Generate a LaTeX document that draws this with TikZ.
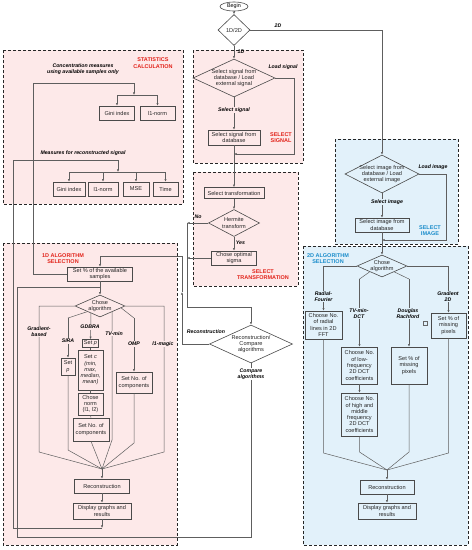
\documentclass[tikz,border=0pt]{standalone}
\usepackage{fontspec}
\setmainfont{Liberation Sans}
\usetikzlibrary{shapes.geometric,arrows.meta}
\definecolor{pinkbg}{HTML}{FDE9E9}
\definecolor{bluebg}{HTML}{E2F1FA}
\definecolor{redt}{HTML}{E2231A}
\definecolor{bluet}{HTML}{1B8DCB}
\definecolor{linec}{HTML}{5E5E5E}
\definecolor{boxc}{HTML}{4A4A4A}
\begin{document}
\begin{tikzpicture}[x=1pt,y=-1pt,
  box/.style={draw=boxc, line width=0.6pt, align=center, font=\fontsize{5.6}{6.3}\selectfont, inner sep=0.5pt, text=black!85},
  dia/.style={diamond, draw=boxc, line width=0.6pt, inner sep=0pt},
  txt/.style={align=center, font=\fontsize{5.6}{6.3}\selectfont, inner sep=0pt, text=black!85},
  lab/.style={font=\fontsize{5.2}{6}\selectfont\bfseries\itshape, align=center, inner sep=0.8pt},
  ttl/.style={font=\fontsize{5.5}{6.3}\selectfont\bfseries, align=center, inner sep=0pt},
  ln/.style={draw=linec, line width=0.5pt},
  arr/.style={ln, -{Latex[length=2.6pt,width=2.2pt]}},
  region/.style={draw=black!85, line width=1pt, dash pattern=on 3pt off 2pt}]
\useasboundingbox (0,0) rectangle (472,550);
% regions
\draw[region, fill=pinkbg] (3,50) rectangle (183,204);
\draw[region, fill=pinkbg] (193,50) rectangle (303,163);
\draw[region, fill=pinkbg] (193,172) rectangle (298,286);
\draw[region, fill=pinkbg] (3,243) rectangle (177,545);
\draw[region, fill=bluebg] (335,139) rectangle (458,244);
\draw[region, fill=bluebg] (303,246) rectangle (468,545);
% top
\node[ellipse, draw=boxc, line width=0.6pt, minimum width=28pt, minimum height=9pt, inner sep=0pt, font=\fontsize{5.4}{6}\selectfont] (begin) at (234,6.5) {Begin};
\node[dia, minimum width=32pt, minimum height=31pt] (d0) at (234,30) {};
\node[txt] (d0t) at (d0) {1D/2D};
% select signal
\node[dia, minimum width=82pt, minimum height=38pt] (d1) at (234,78) {};
\node[txt] (d1t) at (d1) {Select signal from\\database / Load\\external signal};
\node[box, minimum width=52pt, minimum height=15pt] (sigdb) at (234,137.5) {Select signal from\\database};
% transformation
\node[box, minimum width=60pt, minimum height=11pt] (trans) at (234,193) {Select transformation};
\node[dia, minimum width=51pt, minimum height=27pt] (herm) at (234,223) {};
\node[txt] (hermt) at (herm) {Hermite\\transform};
\node[box, minimum width=45pt, minimum height=14pt] (sigma) at (234,258) {Chose optimal\\sigma};
% reconstruction / compare
\node[dia, minimum width=83pt, minimum height=38pt] (rc) at (251,344) {};
\node[txt] (rct) at (rc) {Reconstruction/\\Compare\\algorithms};
% stats
\node[box, minimum width=35pt, minimum height=14pt] (gini1) at (117,113) {Gini index};
\node[box, minimum width=35pt, minimum height=14pt] (l1a) at (157.5,113) {l1-norm};
\node[box, minimum width=32pt, minimum height=14pt] (gini2) at (69,189) {Gini index};
\node[box, minimum width=30pt, minimum height=14pt] (l1b) at (103,189) {l1-norm};
\node[box, minimum width=26pt, minimum height=14pt] (mse) at (136,189) {MSE};
\node[box, minimum width=25pt, minimum height=14pt] (time) at (165.5,189) {Time};
% 1D algorithm
\node[box, minimum width=65pt, minimum height=14pt] (setpct) at (100,274) {Set \% of the available\\samples};
\node[dia, minimum width=50pt, minimum height=22pt] (ch1) at (100,306) {};
\node[txt] (ch1t) at (ch1) {Chose\\algorithm};
\node[box, minimum width=14pt, minimum height=17pt] (setp1) at (68,366.5) {Set\\\textit{p}};
\node[box, minimum width=16pt, minimum height=8pt] (setp2) at (90.5,343.5) {Set \textit{p}};
\node[box, minimum width=25pt, minimum height=40pt] (setc) at (90.5,370) {Set \textit{c}\\\textit{(min,}\\\textit{max,}\\\textit{median,}\\\textit{mean)}};
\node[box, minimum width=25pt, minimum height=22pt] (norm) at (90.5,404) {Chose\\norm\\(l1, l2)};
\node[box, minimum width=36pt, minimum height=23pt] (ncomp) at (91,429.5) {Set No. of\\components};
\node[box, minimum width=36pt, minimum height=21pt] (omp) at (134,382.5) {Set No. of\\components};
\coordinate (conv) at (102,469);
\node[box, minimum width=55pt, minimum height=14pt] (rec1) at (102,486) {Reconstruction};
\node[box, minimum width=58pt, minimum height=16pt] (disp1) at (102,511) {Display graphs and\\results};
% 2D
\node[dia, minimum width=74pt, minimum height=38pt] (d2) at (382,174) {};
\node[txt] (d2t) at (d2) {Select image from\\database / Load\\external image};
\node[box, minimum width=54pt, minimum height=14pt] (imgdb) at (382,225) {Select image from\\database};
\node[dia, minimum width=50pt, minimum height=22pt] (ch2) at (382,266) {};
\node[txt] (ch2t) at (ch2) {Chose\\algorithm};
\node[box, minimum width=37pt, minimum height=28pt] (rad) at (323.5,325) {Choose No.\\of radial\\lines in 2D\\FFT};
\node[box, minimum width=36pt, minimum height=37pt] (low) at (359.5,365.5) {Choose No.\\of low-\\frequency\\2D DCT\\coefficients};
\node[box, minimum width=36pt, minimum height=43pt] (high) at (359.5,414.5) {Choose No.\\of high and\\middle\\frequency\\2D DCT\\coefficients};
\node[box, minimum width=36pt, minimum height=37pt] (dr) at (409,365.5) {Set \% of\\missing\\pixels};
\node[box, minimum width=35pt, minimum height=25pt] (gr) at (448.5,325.5) {Set \% of\\missing\\pixels};
\node[draw=black!60, line width=0.4pt, minimum size=3.5pt, inner sep=0pt] (sq) at (425,323) {};
\coordinate (conv2) at (387,470);
\node[box, minimum width=54pt, minimum height=14pt] (rec2) at (387,487) {Reconstruction};
\node[box, minimum width=58pt, minimum height=16pt] (disp2) at (387,511) {Display graphs and\\results};
% ---- connectors
\draw[arr] (begin) -- (d0);
\draw[arr] (d0) -- (d1);
\draw[arr] (d1) -- (sigdb);
\coordinate (m1) at (234,154);
\draw[arr] (d1.east) -- (294,78) -- (294,154) -- (m1);
\draw[arr] (sigdb) -- (trans);
\draw[arr] (trans) -- (herm);
\draw[arr] (herm) -- (sigma);
\coordinate (n1) at (187,223);
\coordinate (n2) at (187,258);
\coordinate (n3) at (187,307);
\coordinate (n4) at (251,307);
\draw[arr] (herm.west) -- (n1);
\draw[arr] (sigma.west) -- (n2);
\draw[ln] (n1) -- (n3) -- (n4);
\draw[arr] (n4) -- (rc.north);
\coordinate (r1) at (182,344);
\coordinate (r2) at (182,292);
\coordinate (r3) at (182,256);
\coordinate (r4) at (100,256);
\draw[ln] (rc.west) -- (r1);
\draw[arr] (r1) -- (r2);
\draw[ln] (r2) -- (r3) -- (r4);
\draw[arr] (r4) -- (setpct.north);
\coordinate (c1) at (251,537);
\coordinate (c2) at (17,537);
\coordinate (c3) at (17,287);
\coordinate (c4) at (100,287);
\draw[ln] (rc.south) -- (c1) -- (c2) -- (c3) -- (c4);
\draw[arr] (setpct) -- (ch1);
% stats connectors
\coordinate (s1) at (33,274);
\coordinate (s2) at (33,83);
\coordinate (s3) at (134,83);
\coordinate (s4) at (134,95);
\draw[ln] (setpct.west) -- (s1) -- (s2) -- (s3);
\draw[arr] (s3) -- (s4);
\draw[ln] (gini1.north |- s4) -- (l1a.north |- s4);
\draw[arr] (gini1.north |- s4) -- (gini1.north);
\draw[arr] (l1a.north |- s4) -- (l1a.north);
\coordinate (t0) at (102,528);
\coordinate (t1) at (13,528);
\coordinate (t2) at (13,160);
\coordinate (t3) at (118,160);
\coordinate (t4) at (118,172);
\draw[arr] (disp1.south) -- (t0);
\draw[ln] (t0) -- (t1) -- (t2) -- (t3);
\draw[arr] (t3) -- (t4);
\draw[ln] (gini2.north |- t4) -- (time.north |- t4);
\draw[arr] (gini2.north |- t4) -- (gini2.north);
\draw[arr] (l1b.north |- t4) -- (l1b.north);
\draw[arr] (mse.north |- t4) -- (mse.north);
\draw[arr] (time.north |- t4) -- (time.north);
% 1D branches
\draw[ln] (ch1.west) -- (39,306) -- (39,452) -- (conv);
\draw[ln] (ch1.south west) -- (68,318);
\draw[arr] (68,318) -- (setp1.north);
\draw[ln] (setp1.south) -- (68,450) -- (conv);
\draw[arr] (91,313) -- (setp2.north);
\draw[ln] (setp2) -- (setc);
\draw[ln] (setc) -- (norm);
\draw[ln] (norm) -- (ncomp);
\draw[ln] (ncomp.south) -- (conv);
\draw[ln] (112,311.7) -- (112,440) -- (conv);
\draw[ln] (121,307.8) -- (134,318);
\draw[arr] (134,318) -- (omp.north);
\draw[ln] (omp.south) -- (134,443) -- (conv);
\draw[ln] (ch1.east) -- (164,306) -- (164,452) -- (conv);
\draw[arr] (conv) -- (rec1.north);
\draw[arr] (rec1) -- (disp1);
% 2D connectors
\coordinate (k1) at (382,30);
\draw[ln] (d0.east) -- (k1);
\draw[arr] (k1) -- (d2.north);
\draw[arr] (d2) -- (imgdb);
\coordinate (m2) at (382,240);
\draw[arr] (d2.east) -- (446,174) -- (446,240) -- (m2);
\draw[arr] (imgdb) -- (ch2);
\draw[ln] (ch2.west) -- (323.5,266);
\draw[arr] (323.5,266) -- (rad.north);
\draw[ln] (369.5,272) -- (359.5,279);
\draw[arr] (359.5,279) -- (low.north);
\draw[arr] (low) -- (high);
\draw[ln] (394.5,272) -- (409,279);
\draw[arr] (409,279) -- (dr.north);
\draw[ln] (ch2.east) -- (448.5,266);
\draw[arr] (448.5,266) -- (gr.north);
\draw[ln] (rad.south) -- (323.5,453) -- (conv2);
\draw[ln] (high.south) -- (359.5,452) -- (conv2);
\draw[ln] (dr.south) -- (409,452) -- (conv2);
\draw[ln] (gr.south) -- (448.5,453) -- (conv2);
\draw[arr] (conv2) -- (rec2.north);
\draw[arr] (rec2) -- (disp2);
% ---- labels
\node[lab] (l2d) at (278,26) {2D};
\node[lab] (l1d) at (241,52) {1D};
\node[lab] (lls) at (283,67) {Load signal};
\node[lab, fill=pinkbg] (lss) at (234,110) {Select signal};
\node[ttl, text=redt] (tss) at (281,137.5) {SELECT\\SIGNAL};
\node[lab] (lno) at (198,217) {No};
\node[lab] (lyes) at (240.5,243) {Yes};
\node[ttl, text=redt] (tst) at (263,274.5) {SELECT\\TRANSFORMATION};
\node[lab] (lrec) at (206,332) {Reconstruction};
\node[lab, fill=white] (lca) at (251,374) {Compare\\algorithms};
\node[lab] (lcm) at (83,69) {Concentration measures\\using available samples only};
\node[lab] (lmr) at (83,153) {Measures for reconstructed signal};
\node[ttl, text=redt] (tsc) at (153,63) {STATISTICS\\CALCULATION};
\node[ttl, text=redt] (t1d) at (63,258.5) {1D ALGORITHM\\SELECTION};
\node[lab, fill=pinkbg] (lgb) at (39,331.5) {Gradient-\\based};
\node[lab, fill=pinkbg] (lsira) at (68,341) {SIRA};
\node[lab, fill=pinkbg] (lgd) at (90,327) {GDBRA};
\node[lab, fill=pinkbg] (ltv) at (114,333.5) {TV-min};
\node[lab, fill=pinkbg] (lomp) at (134,344) {OMP};
\node[lab, fill=pinkbg] (lmag) at (163,344) {l1-magic};
\node[lab] (lli) at (433,167) {Load image};
\node[lab, fill=bluebg] (lsi) at (387,202) {Select image};
\node[ttl, text=bluet] (tsi) at (430,230.5) {SELECT\\IMAGE};
\node[ttl, text=bluet] (t2d) at (328,258.5) {2D ALGORITHM\\SELECTION};
\node[lab, fill=bluebg] (lrf) at (323.5,296.5) {Radial-\\Fourier};
\node[lab, fill=bluebg] (ltd) at (359,313.5) {TV-min-\\DCT};
\node[lab, fill=bluebg] (ldr) at (408,313.5) {Douglas\\Rachford};
\node[lab, fill=bluebg] (lg2) at (448,296.5) {Gradient\\2D};
\end{tikzpicture}
\end{document}
